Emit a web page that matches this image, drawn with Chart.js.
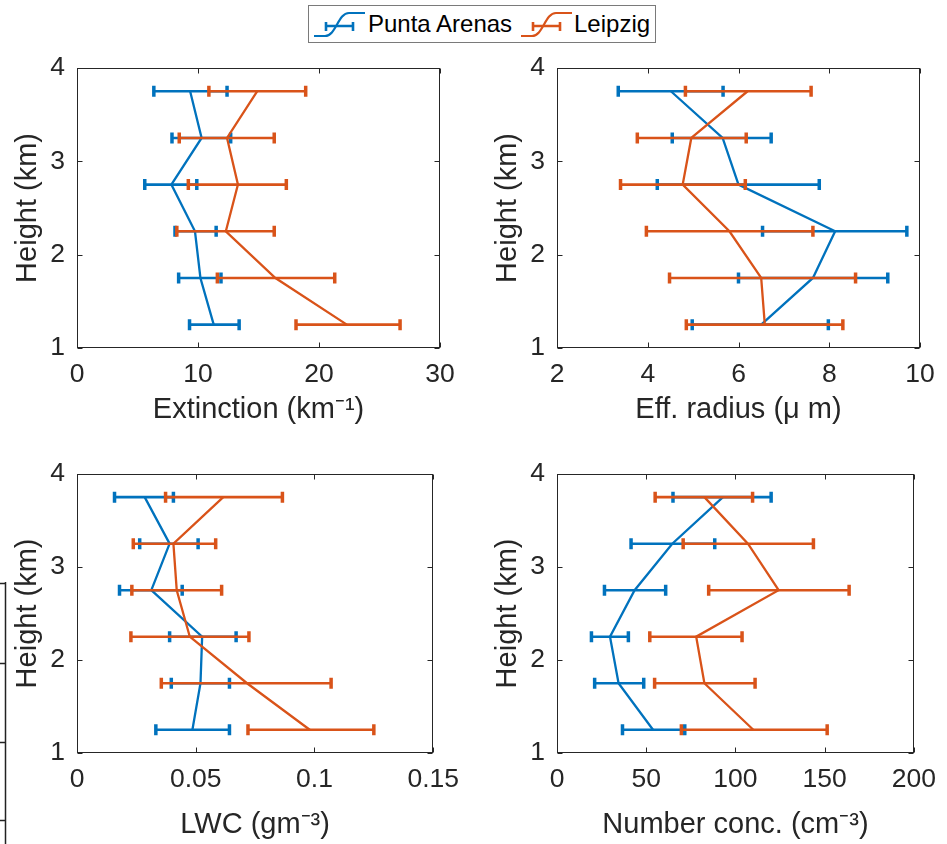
<!DOCTYPE html>
<html>
<head>
<title>Cloud profiles: Punta Arenas vs Leipzig</title>
<script src="https://cdn.jsdelivr.net/npm/chart.js"></script>
<style>
  body { margin: 0; background: #fff; width: 947px; height: 844px; position: relative; overflow: hidden;
         font-family: "Liberation Sans", Arial, sans-serif; }
  .panel { position: absolute; }
  #legend { position: absolute; left: 308px; top: 5px; width: 346px; height: 36px;
            border: 1px solid #7a7a7a; background: #fff; }
  #legend svg, #legend span { position: absolute; }
  #legend span { font-size: 24px; color: #000; top: 4px; line-height: 28px; }
  #edge { position: absolute; left: 0; top: 580px; }
</style>
</head>
<body>
<div id="legend">
  <svg style="left:5px;top:0" width="52" height="36">
    <path d="M0 30 L11 30 C22 30 24 7 35 7 L51 7" fill="none" stroke="#0072BD" stroke-width="2.2"/>
    <path d="M12 20 L39 20 M12 16 L12 25 M39 16 L39 25" fill="none" stroke="#0072BD" stroke-width="2.6"/>
  </svg>
  <span style="left:59px">Punta Arenas</span>
  <svg style="left:212px;top:0" width="52" height="36">
    <path d="M0 30 L11 30 C22 30 24 7 35 7 L51 7" fill="none" stroke="#D95319" stroke-width="2.2"/>
    <path d="M12 20 L39 20 M12 16 L12 25 M39 16 L39 25" fill="none" stroke="#D95319" stroke-width="2.6"/>
  </svg>
  <span style="left:265px">Leipzig</span>
</div>

<svg id="edge" width="10" height="264">
  <path d="M5.5 2 L5.5 264 M0 3.5 L6 3.5 M0 83.5 L6 83.5 M0 162.5 L6 162.5 M0 240.5 L6 240.5" stroke="#222" stroke-width="1.5" fill="none"/>
</svg>

<div class="panel" style="left:0;top:40px"><canvas id="c-ext" width="470" height="390"></canvas></div>
<div class="panel" style="left:480px;top:40px"><canvas id="c-reff" width="467" height="390"></canvas></div>
<div class="panel" style="left:0;top:446px"><canvas id="c-lwc" width="470" height="397"></canvas></div>
<div class="panel" style="left:480px;top:446px"><canvas id="c-nd" width="467" height="397"></canvas></div>

<script>
// alturas (km), de abajo hacia arriba
const heights = [1.25, 1.75, 2.25, 2.75, 3.25, 3.75];

// Extinction (km-1)
const extPA   = [11.3, 10.2, 9.75, 7.8, 10.3, 9.35];
const extPAlo = [9.3, 8.4, 8.1, 5.6, 7.85, 6.35];
const extPAhi = [13.4, 11.9, 11.5, 9.9, 12.7, 12.4];
const extLE   = [22.3, 16.4, 12.3, 13.3, 12.4, 14.9];
const extLElo = [18.1, 11.6, 8.25, 9.2, 8.45, 10.9];
const extLEhi = [26.7, 21.3, 16.3, 17.3, 16.3, 18.9];

// Effective radius (um)
const reffPA   = [6.5, 7.64, 8.13, 6.0, 5.65, 4.51];
const reffPAlo = [4.98, 6.0, 6.53, 4.21, 4.54, 3.35];
const reffPAhi = [7.98, 9.29, 9.71, 7.78, 6.72, 5.66];
const reffLE   = [6.58, 6.5, 5.8, 4.77, 4.96, 6.2];
const reffLElo = [4.85, 4.48, 3.97, 3.4, 3.77, 4.83];
const reffLEhi = [8.3, 8.58, 7.64, 6.15, 6.17, 7.6];

// LWC (g m-3)
const lwcPA   = [0.0486, 0.052, 0.0527, 0.0313, 0.039, 0.0285];
const lwcPAlo = [0.0332, 0.0397, 0.039, 0.0179, 0.0264, 0.0158];
const lwcPAhi = [0.0642, 0.0642, 0.067, 0.0443, 0.051, 0.0406];
const lwcLE   = [0.098, 0.0716, 0.0475, 0.042, 0.0406, 0.0616];
const lwcLElo = [0.072, 0.0355, 0.0227, 0.0231, 0.0237, 0.0373];
const lwcLEhi = [0.125, 0.107, 0.0724, 0.0609, 0.0584, 0.0865];

// Number concentration (cm-3)
const ndPA   = [53.8, 34.5, 29.7, 43.5, 64.6, 93];
const ndPAlo = [36.7, 21.1, 19.3, 26.6, 41.5, 65];
const ndPAhi = [71.6, 48.6, 40, 60.9, 88.4, 120];
const ndLE   = [110, 82.6, 78, 124.2, 107, 82.6];
const ndLElo = [69.7, 54.7, 52, 85, 70.7, 55];
const ndLEhi = [151.4, 111, 103.7, 163.7, 143.7, 109.6];

const BLUE = '#0072BD';
const ORANGE = '#D95319';
const AXIS = '#262626';
const FONT = 'Liberation Sans, Arial, sans-serif';
const TICK_SIZE = 26.5;
const TITLE_SIZE = 29;

// barras de error horizontales, antes de la linea de cada serie
const errorBars = {
  id: 'errorBars',
  beforeDatasetDraw(chart, args) {
    const ds = chart.data.datasets[args.index];
    const xs = chart.scales.x, ys = chart.scales.y;
    const ctx = chart.ctx;
    ctx.save();
    ctx.strokeStyle = ds.borderColor;
    ds.data.forEach((p, i) => {
      const py = ys.getPixelForValue(p.y);
      const x0 = xs.getPixelForValue(ds.lo[i]);
      const x1 = xs.getPixelForValue(ds.hi[i]);
      ctx.lineWidth = 2.6;
      ctx.beginPath();
      ctx.moveTo(x0, py); ctx.lineTo(x1, py);
      ctx.stroke();
      ctx.lineWidth = 3.5;
      ctx.beginPath();
      ctx.moveTo(x0, py - 5.5); ctx.lineTo(x0, py + 5.5);
      ctx.moveTo(x1, py - 5.5); ctx.lineTo(x1, py + 5.5);
      ctx.stroke();
    });
    ctx.restore();
  }
};

// caja estilo MATLAB con ticks hacia dentro
const boxAxes = {
  id: 'boxAxes',
  afterDatasetsDraw(chart) {
    const {ctx, chartArea: a, scales: {x, y}} = chart;
    const L = Math.round(a.left) + 0.5, R = Math.round(a.right) - 0.5;
    const T = Math.round(a.top) + 0.5, B = Math.round(a.bottom) - 0.5;
    ctx.save();
    ctx.strokeStyle = AXIS;
    ctx.lineWidth = 1;
    ctx.strokeRect(L, T, R - L, B - T);
    ctx.beginPath();
    x.ticks.forEach(t => {
      const px = Math.round(x.getPixelForValue(t.value)) + 0.5;
      ctx.moveTo(px, B); ctx.lineTo(px, B - 5);
      ctx.moveTo(px, T); ctx.lineTo(px, T + 5);
    });
    y.ticks.forEach(t => {
      const py = Math.round(y.getPixelForValue(t.value)) + 0.5;
      ctx.moveTo(L, py); ctx.lineTo(L + 5, py);
      ctx.moveTo(R, py); ctx.lineTo(R - 5, py);
    });
    ctx.stroke();
    ctx.restore();
  }
};

function serie(vals, lo, hi, color, order) {
  return {
    data: heights.map((h, i) => ({x: vals[i], y: h})),
    lo: lo, hi: hi,
    borderColor: color,
    borderWidth: 2.3,
    pointRadius: 0,
    showLine: true,
    tension: 0,
    order: order
  };
}

function makePanel(id, xmin, xmax, step, xTitle, pa, le, xHeight, titlePad, padRight) {
  return new Chart(document.getElementById(id), {
    type: 'scatter',
    data: {
      datasets: [
        serie(pa[0], pa[1], pa[2], BLUE, 2),   // Punta Arenas
        serie(le[0], le[1], le[2], ORANGE, 1)  // Leipzig
      ]
    },
    options: {
      responsive: false,
      animation: false,
      layout: { padding: { top: 26, right: padRight, left: 0, bottom: 0 } },
      plugins: { legend: { display: false }, tooltip: { enabled: false } },
      scales: {
        x: {
          type: 'linear', min: xmin, max: xmax,
          grid: { display: false, drawTicks: false },
          border: { display: false },
          ticks: { stepSize: step, color: AXIS, padding: 11, maxRotation: 0,
                   font: { family: FONT, size: TICK_SIZE },
                   callback: v => String(+v.toFixed(3)) },
          title: { display: true, text: xTitle, color: AXIS,
                   font: { family: FONT, size: TITLE_SIZE }, padding: { top: 0, bottom: titlePad } },
          afterFit: s => { s.height = xHeight; }
        },
        y: {
          type: 'linear', min: 1, max: 4,
          grid: { display: false, drawTicks: false },
          border: { display: false },
          ticks: { stepSize: 1, color: AXIS, padding: 12, font: { family: FONT, size: TICK_SIZE } },
          title: { display: true, text: 'Height (km)', color: AXIS,
                   font: { family: FONT, size: TITLE_SIZE }, padding: { top: 11, bottom: 0 } },
          afterFit: s => { s.width = 77; }
        }
      }
    },
    plugins: [errorBars, boxAxes]
  });
}

makePanel('c-ext', 0, 30, 10, 'Extinction (km\u207B\u00B9)',
  [extPA, extPAlo, extPAhi], [extLE, extLElo, extLEhi], 82, 3, 30);
makePanel('c-reff', 2, 10, 2, 'Eff. radius (\u03BC m)',
  [reffPA, reffPAlo, reffPAhi], [reffLE, reffLElo, reffLEhi], 82, 3, 27);
makePanel('c-lwc', 0, 0.15, 0.05, 'LWC (gm\u207B\u00B3)',
  [lwcPA, lwcPAlo, lwcPAhi], [lwcLE, lwcLElo, lwcLEhi], 90, 1, 30);
makePanel('c-nd', 0, 200, 50, 'Number conc. (cm\u207B\u00B3)',
  [ndPA, ndPAlo, ndPAhi], [ndLE, ndLElo, ndLEhi], 90, 1, 27);
</script>
</body>
</html>
